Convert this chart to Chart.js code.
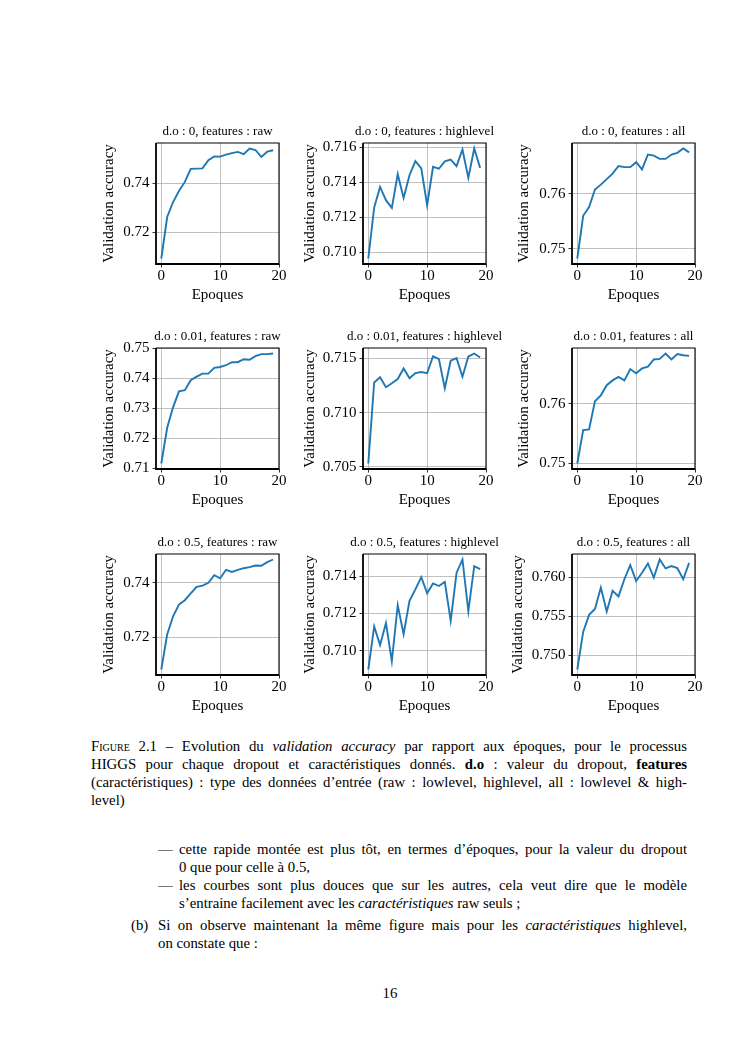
<!DOCTYPE html>
<html><head><meta charset="utf-8">
<script src="https://cdn.jsdelivr.net/npm/chart.js@4.4.0/dist/chart.umd.min.js"></script>
<style>
html,body{margin:0;padding:0;background:#fff;}
body{width:745px;height:1053px;position:relative;overflow:hidden;font-family:"Liberation Serif","Times New Roman",serif;color:#000;}
.cw{position:absolute;}
.ln{position:absolute;font-size:14.8px;line-height:18px;height:18px;overflow:visible;}
.j{text-align:justify;text-align-last:justify;}
.sc{font-variant:small-caps;}
</style></head><body>

<div class="ln j" style="left:91px;top:737px;width:596px;"><span class="sc">Figure</span> 2.1 – Evolution du <i>validation accuracy</i> par rapport aux époques, pour le processus</div>
<div class="ln j" style="left:91px;top:755px;width:596px;">HIGGS pour chaque dropout et caractéristiques donnés. <b>d.o</b> : valeur du dropout, <b>features</b></div>
<div class="ln j" style="left:91px;top:773px;width:596px;">(caractéristiques) : type des données d’entrée (raw : lowlevel, highlevel, all : lowlevel &amp; high-</div>
<div class="ln" style="left:91px;top:791px;width:596px;">level)</div>

<div class="ln" style="left:158px;top:840px;">—</div>
<div class="ln j" style="left:179px;top:840px;width:508px;">cette rapide montée est plus tôt, en termes d’époques, pour la valeur du dropout</div>
<div class="ln" style="left:179px;top:858px;width:508px;">0 que pour celle à 0.5,</div>
<div class="ln" style="left:158px;top:876px;">—</div>
<div class="ln j" style="left:179px;top:876px;width:508px;">les courbes sont plus douces que sur les autres, cela veut dire que le modèle</div>
<div class="ln" style="left:179px;top:894px;width:508px;">s’entraine facilement avec les <i>caractéristiques</i> raw seuls ;</div>
<div class="ln" style="left:131px;top:916px;">(b)</div>
<div class="ln j" style="left:158px;top:916px;width:529px;">Si on observe maintenant la même figure mais pour les <i>caractéristiques</i> highlevel,</div>
<div class="ln" style="left:158px;top:934px;width:529px;">on constate que :</div>
<div class="ln" style="left:360px;top:984px;width:60px;text-align:center;">16</div>

<script>
// ---------- data ----------
const epochs = [0,1,2,3,4,5,6,7,8,9,10,11,12,13,14,15,16,17,18,19];
const xTickLabels = ["0","10","20"];

const titles = [
  "d.o : 0, features : raw", "d.o : 0, features : highlevel", "d.o : 0, features : all",
  "d.o : 0.01, features : raw", "d.o : 0.01, features : highlevel", "d.o : 0.01, features : all",
  "d.o : 0.5, features : raw", "d.o : 0.5, features : highlevel", "d.o : 0.5, features : all"
];

const do0Raw = [0.7093,0.7262,0.7323,0.7368,0.7405,0.7458,0.7459,0.7460,0.7493,0.7509,0.7508,0.7516,0.7522,0.7527,0.7518,0.7541,0.7535,0.7507,0.7528,0.7534];
const do0High = [0.70964,0.71256,0.71374,0.71298,0.71254,0.71447,0.71311,0.71441,0.71522,0.71480,0.71269,0.71489,0.71478,0.71520,0.71531,0.71493,0.71588,0.71426,0.71594,0.71483];
const do0All = [0.7482,0.7560,0.7576,0.7608,0.7617,0.7627,0.7637,0.7651,0.7649,0.7649,0.7658,0.7645,0.7672,0.7670,0.7664,0.7664,0.7672,0.7675,0.7683,0.7676];
const do001Raw = [0.7116,0.7235,0.7303,0.7356,0.7360,0.7393,0.7405,0.7415,0.7415,0.7434,0.7437,0.7443,0.7453,0.7453,0.7463,0.7461,0.7473,0.7480,0.7480,0.7482];
const do001High = [0.7053,0.71278,0.71326,0.71235,0.71271,0.71310,0.71408,0.71317,0.71365,0.71375,0.71365,0.71521,0.71494,0.71225,0.71479,0.71503,0.71332,0.71518,0.71546,0.71509];
const do001All = [0.7500,0.7556,0.7557,0.7604,0.7614,0.7631,0.7639,0.7645,0.7639,0.7658,0.7651,0.7659,0.7662,0.7674,0.7675,0.7684,0.7674,0.7683,0.7681,0.7680];
const do05Raw = [0.7081,0.7210,0.7277,0.7320,0.7336,0.7361,0.7385,0.7390,0.7400,0.7428,0.7417,0.7448,0.7440,0.7448,0.7454,0.7458,0.7464,0.7463,0.7476,0.7486];
const do05High = [0.70898,0.71130,0.71030,0.71148,0.70943,0.71245,0.71089,0.71268,0.71330,0.71396,0.71309,0.71362,0.71348,0.71370,0.71161,0.71420,0.71491,0.71212,0.71455,0.71439];
const do05All = [0.74814,0.75297,0.75517,0.75593,0.75869,0.75559,0.75826,0.75754,0.75975,0.76157,0.75953,0.76059,0.76178,0.75996,0.76229,0.76114,0.76144,0.76119,0.75975,0.76186];

const yTicks0Raw = ["0.72","0.74"];
const yTicks0High = ["0.710","0.712","0.714","0.716"];
const yTicks0All = ["0.75","0.76"];
const yTicks001Raw = ["0.71","0.72","0.73","0.74","0.75"];
const yTicks001High = ["0.705","0.710","0.715"];
const yTicks001All = ["0.75","0.76"];
const yTicks05Raw = ["0.72","0.74"];
const yTicks05High = ["0.710","0.712","0.714"];
const yTicks05All = ["0.750","0.755","0.760"];

const seriesList = [do0Raw,do0High,do0All,do001Raw,do001High,do001All,do05Raw,do05High,do05All];
const yTickList = [yTicks0Raw,yTicks0High,yTicks0All,yTicks001Raw,yTicks001High,yTicks001All,yTicks05Raw,yTicks05High,yTicks05All];

// ---------- layout / style ----------
const FONT = '"Liberation Serif","Times New Roman",serif';
const colLeft = [156, 363, 572];
const rowTop = [143, 348, 554];
const plotW = 123, plotH = 121, titleH = 25, xAxisH = 42, padR = 28;
const yAxisW = [57,63,58,57,63,58,57,63,64];

const framePlugin = {
  id: 'frame',
  afterDatasetsDraw(chart) {
    const {ctx, chartArea: a} = chart;
    ctx.save();
    ctx.strokeStyle = '#000';
    ctx.lineWidth = 1.1;
    ctx.beginPath();
    ctx.moveTo(a.left, a.top); ctx.lineTo(a.right, a.top); ctx.lineTo(a.right, a.bottom);
    ctx.stroke();
    ctx.lineWidth = 1.8;
    ctx.beginPath();
    ctx.moveTo(a.left, a.top); ctx.lineTo(a.left, a.bottom); ctx.lineTo(a.right, a.bottom);
    ctx.stroke();
    ctx.restore();
  }
};

// title centred over the plot area (like matplotlib's axes title)
const plotTitlePlugin = {
  id: 'plotTitle',
  afterDraw(chart, args, opts) {
    const {ctx, chartArea: a} = chart;
    ctx.save();
    ctx.font = '13px ' + FONT;
    ctx.fillStyle = '#000';
    ctx.textAlign = 'center';
    ctx.textBaseline = 'middle';
    ctx.fillText(opts.text, (a.left + a.right) / 2, a.top - 11.5);
    ctx.restore();
  }
};

seriesList.forEach((vals, k) => {
  const r = Math.floor(k / 3), c = k % 3;
  const yW = yAxisW[k];
  const wrap = document.createElement('div');
  wrap.className = 'cw';
  wrap.style.left = (colLeft[c] - yW) + 'px';
  wrap.style.top = (rowTop[r] - titleH) + 'px';
  wrap.style.width = (yW + plotW + padR) + 'px';
  wrap.style.height = (titleH + plotH + xAxisH) + 'px';
  const cv = document.createElement('canvas');
  wrap.appendChild(cv);
  document.body.appendChild(wrap);

  const dmin = Math.min(...vals), dmax = Math.max(...vals);
  const m = (dmax - dmin) * 0.05;
  const yMin = dmin - m, yMax = dmax + m;
  const yLabels = yTickList[k].filter(s => parseFloat(s) >= yMin - 1e-9 && parseFloat(s) <= yMax + 1e-9);

  new Chart(cv, {
    type: 'line',
    data: {
      datasets: [{
        data: epochs.map((e, i) => ({x: e, y: vals[i]})),
        borderColor: '#1f77b4',
        borderWidth: 1.9,
        pointRadius: 0,
        tension: 0,
        fill: false
      }]
    },
    options: {
      animation: false,
      responsive: true,
      maintainAspectRatio: false,
      events: [],
      layout: {padding: {left: 0, right: padR, top: titleH, bottom: 0}},
      plugins: {
        legend: {display: false},
        tooltip: {enabled: false},
        title: {display: false},
        plotTitle: {text: titles[k]}
      },
      scales: {
        x: {
          type: 'linear', min: -0.9, max: 20, bounds: 'data',
          afterBuildTicks: s => { s.ticks = xTickLabels.map(t => ({value: parseFloat(t)})); },
          afterFit: s => { s.height = xAxisH; },
          ticks: {
            color: '#000', font: {family: FONT, size: 15}, padding: 0,
            maxRotation: 0, autoSkip: false,
            callback: (v, i) => xTickLabels[i]
          },
          grid: {color: '#b0b0b0', lineWidth: 0.8, tickLength: 3.5, tickColor: '#000', tickWidth: 0.8},
          border: {display: false},
          title: {display: true, text: 'Epoques', color: '#000', font: {family: FONT, size: 15}, padding: {top: 0, bottom: 2}}
        },
        y: {
          type: 'linear', min: yMin, max: yMax, bounds: 'data',
          afterBuildTicks: s => { s.ticks = yLabels.map(t => ({value: parseFloat(t)})); },
          afterFit: s => { s.width = yW; },
          ticks: {
            color: '#000', font: {family: FONT, size: 15}, padding: 3, autoSkip: false,
            callback: (v, i) => yLabels[i]
          },
          grid: {color: '#b0b0b0', lineWidth: 0.8, tickLength: 3.5, tickColor: '#000', tickWidth: 0.8},
          border: {display: false},
          title: {display: true, text: 'Validation accuracy', color: '#000', font: {family: FONT, size: 15}, padding: {top: 1.5, bottom: 0}}
        }
      }
    },
    plugins: [framePlugin, plotTitlePlugin]
  });
});
</script>
</body></html>
